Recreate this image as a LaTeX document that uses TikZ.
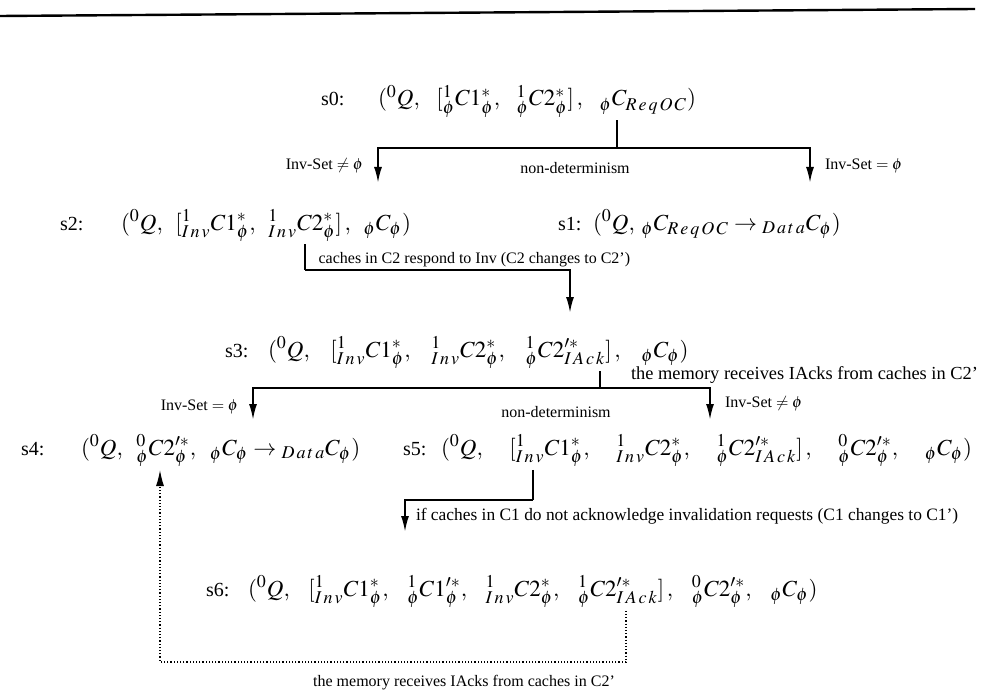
\documentclass[tikz,border=0pt]{standalone}
\usepackage{mathptmx}
\usepackage[no-math]{fontspec}
\setmainfont{Liberation Serif}
\usetikzlibrary{arrows.meta}
\DeclareMathSizes{11.5}{11.5}{9}{7}
\newlength{\gp}\setlength{\gp}{4pt}
\newcommand{\cm}{,\hspace{\gp}}
\newcommand{\cach}[5]{{}^{#1}_{#2}#3^{#4}_{#5}}
\newcommand{\Inv}{I\mkern2mu n\mkern2mu v}
\newcommand{\Req}{R\mkern2mu e\mkern2mu q\mkern2mu O\mkern2mu C}
\newcommand{\Dat}{D\mkern2mu a\mkern2mu t\mkern2mu a}
\newcommand{\Ack}{I\mkern2mu A\mkern2mu c\mkern2mu k}

\begin{document}
\begin{tikzpicture}[x=0.5pt, y=-0.5pt, line width=1pt, >={Latex[length=8pt,width=4pt]},
  state/.style={anchor=base west, inner sep=1pt, font=\fontsize{11.5}{13}\selectfont},
  slab/.style={anchor=base west, inner sep=1pt, font=\fontsize{10}{12}\selectfont},
  lab/.style={inner sep=1pt, font=\fontsize{8}{10}\selectfont}]
  \useasboundingbox (0,0) rectangle (984,695);
  \draw[line width=1.2pt] (0,16) -- (975,9);

  % states
  \node[slab] (s0lab) at (318,106) {s0:};
  \node[state] (s0) at (375,106) {\setlength{\gp}{7pt}$({}^{0}Q\cm[\cach{1}{\phi}{C1}{*}{\phi}\cm\cach{1}{\phi}{C2}{*}{\phi}]\,\cm{}_{\phi}C_{\Req})$};
  \node[slab] (s2lab) at (57,230) {s2:};
  \node[state] (s2) at (118,230) {\setlength{\gp}{5pt}$({}^{0}Q\cm[\cach{1}{\Inv}{C1}{*}{\phi}\cm\cach{1}{\Inv}{C2}{*}{\phi}]\,\cm{}_{\phi}C_{\phi})$};
  \node[slab] (s1lab) at (555,230) {s1:};
  \node[state] (s1) at (590,230) {\setlength{\gp}{2pt}$({}^{0}Q\cm{}_{\phi}C_{\Req}\rightarrow{}_{\Dat}C_{\phi})$};
  \node[slab] (s3lab) at (222,357) {s3:};
  \node[state] (s3) at (265,357) {\setlength{\gp}{9pt}$({}^{0}Q\cm[\cach{1}{\Inv}{C1}{*}{\phi}\cm\cach{1}{\Inv}{C2}{*}{\phi}\cm\cach{1}{\phi}{C2'}{*}{\Ack}]\,\cm{}_{\phi}C_{\phi})$};
  \node[slab] (s4lab) at (18,455) {s4:};
  \node[state] (s4) at (78,455) {\setlength{\gp}{5.5pt}$({}^{0}Q\cm\cach{0}{\phi}{C2'}{*}{\phi}\cm{}_{\phi}C_{\phi}\rightarrow{}_{\Dat}C_{\phi})$};
  \node[slab] (s5lab) at (400,455) {s5:};
  \node[state] (s5) at (438,455) {\setlength{\gp}{12pt}$({}^{0}Q\cm[\cach{1}{\Inv}{C1}{*}{\phi}\cm\cach{1}{\Inv}{C2}{*}{\phi}\cm\cach{1}{\phi}{C2'}{*}{\Ack}]\,\cm\cach{0}{\phi}{C2'}{*}{\phi}\cm{}_{\phi}C_{\phi})$};
  \node[slab] (s6lab) at (203,596) {s6:};
  \node[state] (s6) at (245,596) {\setlength{\gp}{8pt}$({}^{0}Q\cm[\cach{1}{\Inv}{C1}{*}{\phi}\cm\cach{1}{\phi}{C1'}{*}{\phi}\cm\cach{1}{\Inv}{C2}{*}{\phi}\cm\cach{1}{\phi}{C2'}{*}{\Ack}]\,\cm\cach{0}{\phi}{C2'}{*}{\phi}\cm{}_{\phi}C_{\phi})$};

  % s0 branches
  \coordinate (j0) at (617,148);
  \coordinate (t2) at (378,183);
  \coordinate (t1) at (810,183);
  \draw (s0.south -| j0) -- (j0);
  \draw[->] (j0) -| (t2) node[lab, pos=0.75, left=6pt]{Inv-Set $\neq\phi$};
  \draw[->] (j0) -| (t1) node[lab, pos=0.75, right=6pt]{Inv-Set $=\phi$};
  \node[lab] (nd0) at (575,168) {non-determinism};

  % s2 -> s3
  \coordinate (j2) at (305,270);
  \coordinate (t3) at (570,313);
  \draw (s2.south -| j2) -- (j2);
  \draw[->] (j2) -| (t3) node[lab, pos=0.02, above right]{caches in C2 respond to Inv (C2 changes to C2')};

  % s3 branches
  \coordinate (j3) at (600,388);
  \coordinate (t4) at (253,420);
  \coordinate (t5) at (710,420);
  \draw (s3.south -| j3) -- (j3);
  \draw[->] (j3) -| (t4) node[lab, pos=0.8, left=6pt]{Inv-Set $=\phi$};
  \draw[->] (j3) -| (t5) node[lab, pos=0.75, right=6pt]{Inv-Set $\neq\phi$};
  \node[lab, anchor=south west, font=\fontsize{9.2}{11}\selectfont] (mem) at (628,386) {the memory receives IAcks from caches in C2'};
  \node[lab] (nd3) at (556,412) {non-determinism};

  % s5 -> s6
  \coordinate (j5) at (533,500);
  \coordinate (t6) at (405,532);
  \draw (s5.south -| j5) -- (j5);
  \draw[->] (j5) -| (t6) node[lab, pos=0.75, right=4pt, font=\fontsize{8.7}{10}\selectfont]{if caches in C1 do not acknowledge invalidation requests (C1 changes to C1')};

  % s6 -> s4
  \coordinate (d6) at (626,662);
  \coordinate (t7) at (160,470);
  \draw[densely dotted, line width=0.6pt, ->] (s6.south -| d6) -- (d6) -| (t7);
  \node[lab] (mem2) at (464,683) {the memory receives IAcks from caches in C2'};
\end{tikzpicture}
\end{document}
